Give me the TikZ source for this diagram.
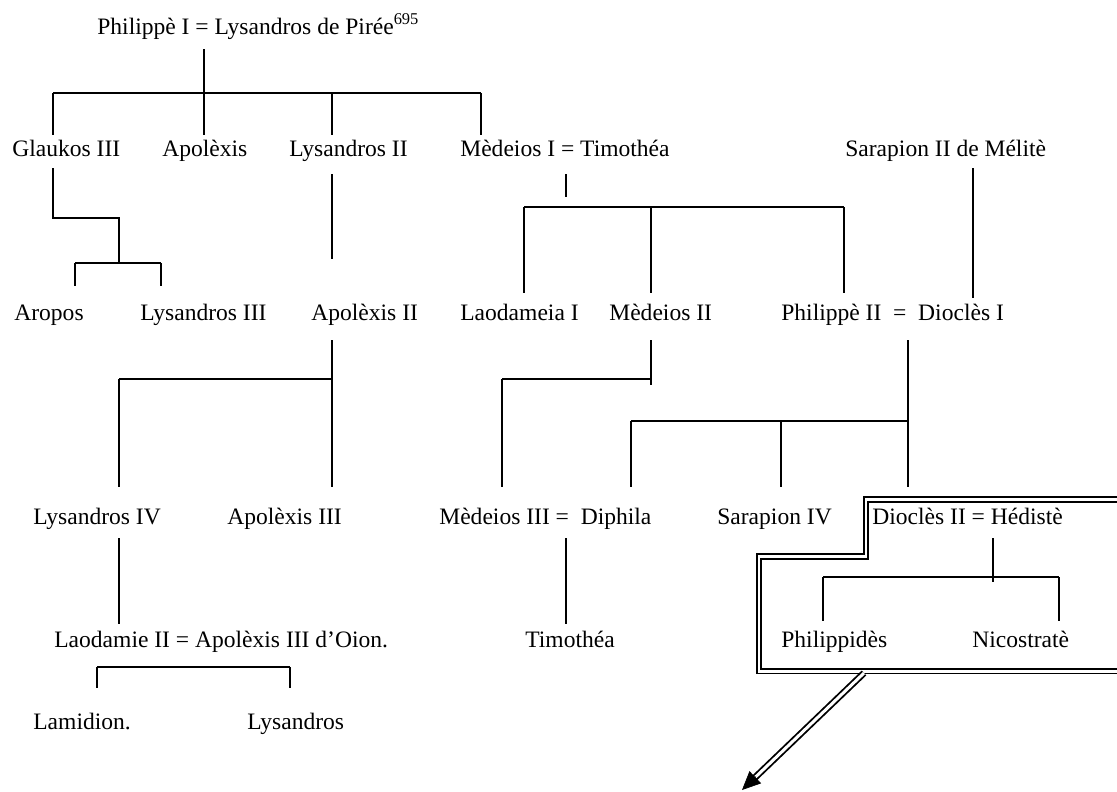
\documentclass[tikz,border=0pt]{standalone}
\usepackage{fontspec}
\setmainfont{Liberation Serif}
\usetikzlibrary{arrows.meta,calc}

\tikzset{
    person/.style={anchor=base west, inner sep=0pt, text height=9.1pt, text depth=2.85pt,
        font=\fontsize{13.4}{16}\selectfont},
    tree/.style={line width=0.85pt},
    frame/.style={double, line width=1.05pt, double distance=1.7pt}
}

\begin{document}
\begin{tikzpicture}[x=0.02cm, y=-0.02cm]
    \clip (0,0) rectangle (1117,792);
    % Names, row by row
    \node[person] (root) at (97,34) {Philippè I = Lysandros de Pirée\textsuperscript{695}};

    \node[person] (glaukos) at (12,156) {Glaukos III};
    \node[person] (apolexis) at (162,156) {Apolèxis};
    \node[person] (lysandrosII) at (289,156) {Lysandros II};
    \node[person] (medeiosI) at (460,156) {Mèdeios I = Timothéa};
    \node[person] (sarapionII) at (845,156) {Sarapion II de Mélitè};

    \node[person] (aropos) at (14,320) {Aropos};
    \node[person] (lysandrosIII) at (140,320) {Lysandros III};
    \node[person] (apolexisII) at (311,320) {Apolèxis II};
    \node[person] (laodameiaI) at (460,320) {Laodameia I};
    \node[person] (medeiosII) at (609,320) {Mèdeios II};
    \node[person] (philippeII) at (781,320) {Philippè II\ \ =\ \ Dioclès I};

    \node[person] (lysandrosIV) at (33,524) {Lysandros IV};
    \node[person] (apolexisIII) at (227,524) {Apolèxis III};
    \node[person] (medeiosIII) at (439,524) {Mèdeios III =\ \ Diphila};
    \node[person] (sarapionIV) at (717,524) {Sarapion IV};
    \node[person] (dioclesII) at (872,524) {Dioclès II = Hédistè};

    \node[person] (laodamieII) at (54,647) {Laodamie II = Apolèxis III d’Oion.};
    \node[person] (timothea) at (525,647) {Timothéa};
    \node[person] (philippides) at (781,647) {Philippidès};
    \node[person] (nicostrate) at (972,647) {Nicostratè};

    \node[person] (lamidion) at (33,729) {Lamidion.};
    \node[person] (lysandros) at (247,729) {Lysandros};

    % Children of Philippe I
    \coordinate (rootL) at (53,93);
    \coordinate (rootbar) at (204,93);
    \coordinate (rootM) at (332,93);
    \coordinate (rootR) at (481,93);
    \draw[tree, shorten <=5.7pt] (root.south -| rootbar) -- (rootbar);
    \draw[tree] (rootL) -- (rootR);
    \foreach \jn/\kid in {rootL/glaukos, rootbar/apolexis, rootM/lysandrosII, rootR/medeiosI} {
        \draw[tree, shorten >=2.8pt] (\jn) -- (\jn |- \kid.north);
    }

    % Glaukos III
    \coordinate (glbend) at (53,218);
    \coordinate (glturn) at (119,218);
    \coordinate (glbarL) at (75,263);
    \coordinate (glbarR) at (161,263);
    \draw[tree, shorten <=4pt] (glaukos.south -| glbend) -- (glbend) -- (glturn) -- (glturn |- glbarL);
    \draw[tree] (glbarL) -- (glbarR);
    \foreach \jn/\kid in {glbarL/aropos, glbarR/lysandrosIII} {
        \draw[tree, shorten >=10.2pt] (\jn) -- (\jn |- \kid.north);
    }

    % Lysandros II
    \draw[tree, shorten <=7.4pt, shorten >=25.6pt] (lysandrosII.south -| rootM) -- (rootM |- apolexisII.north);

    % Medeios I and Timothea
    \coordinate (mdbar) at (566,207);
    \coordinate (mdL) at (524,207);
    \coordinate (mdM) at (651,207);
    \coordinate (mdR) at (844,207);
    \draw[tree, shorten <=7.4pt, shorten >=5.7pt] (medeiosI.south -| mdbar) -- (mdbar);
    \draw[tree] (mdL) -- (mdR);
    \foreach \jn/\kid in {mdL/laodameiaI, mdM/medeiosII, mdR/philippeII} {
        \draw[tree, shorten >=6.3pt] (\jn) -- (\jn |- \kid.north);
    }

    % Sarapion II
    \coordinate (sacol) at (973,168);
    \draw[tree, shorten >=3.4pt] (sacol) -- (sacol |- philippeII.north);

    % Apolexis II
    \coordinate (apbar) at (332,379);
    \coordinate (apL) at (119,379);
    \draw[tree, shorten <=8.5pt, shorten >=12pt] (apolexisII.south -| apbar) -- (apbar |- apolexisIII.north);
    \draw[tree] (apbar) -- (apL);
    \draw[tree, shorten >=12pt] (apL) -- (apL |- lysandrosIV.north);

    % Medeios II
    \coordinate (m2bar) at (651,379);
    \coordinate (m2L) at (502,379);
    \draw[tree, shorten <=8.5pt, shorten >=-3.4pt] (medeiosII.south -| m2bar) -- (m2bar);
    \draw[tree] (m2bar) -- (m2L);
    \draw[tree, shorten >=12pt] (m2L) -- (m2L |- medeiosIII.north);

    % Philippe II and Diocles I
    \coordinate (p2bar) at (908,421);
    \coordinate (p2L) at (631,421);
    \coordinate (p2M) at (781,421);
    \draw[tree, shorten <=8.5pt, shorten >=12pt] (philippeII.south -| p2bar) -- (p2bar |- dioclesII.north);
    \draw[tree] (p2bar) -- (p2L);
    \foreach \jn/\kid in {p2L/medeiosIII, p2M/sarapionIV} {
        \draw[tree, shorten >=12pt] (\jn) -- (\jn |- \kid.north);
    }

    % One child lines
    \draw[tree, shorten <=5.1pt, shorten >=4pt] (lysandrosIV.south -| apL) -- (apL |- laodamieII.north);
    \draw[tree, shorten <=5.1pt, shorten >=4pt] (medeiosIII.south -| mdbar) -- (mdbar |- timothea.north);

    % Laodamie II
    \coordinate (ldL) at (97,667);
    \coordinate (ldR) at (290,667);
    \draw[tree] (ldL) -- (ldR);
    \foreach \jn/\kid in {ldL/lamidion, ldR/lysandros} {
        \draw[tree, shorten >=14.2pt] (\jn) -- (\jn |- \kid.north);
    }

    % Diocles II and Hediste
    \coordinate (d2bar) at (993,577);
    \coordinate (d2L) at (823,577);
    \coordinate (d2R) at (1059,577);
    \draw[tree, shorten <=5.1pt, shorten >=-2.8pt] (dioclesII.south -| d2bar) -- (d2bar);
    \draw[tree] (d2L) -- (d2R);
    \foreach \jn/\kid in {d2L/philippides, d2R/nicostrate} {
        \draw[tree, shorten >=5.7pt] (\jn) -- (\jn |- \kid.north);
    }

    % Double frame and arrow
    \draw[frame] (1130,499.5) -- (866,499.5) -- (866,556.5) -- (759,556.5) -- (759,671) -- (1130,671);
    \coordinate (arrstart) at (864,673);
    \coordinate (arrtip) at (742,790);
    \draw[frame, shorten >=9pt] (arrstart) -- (arrtip);
    \draw[-{Triangle[length=10.5pt,width=9.5pt]}] ($(arrtip)!11pt!(arrstart)$) -- (arrtip);
\end{tikzpicture}
\end{document}
